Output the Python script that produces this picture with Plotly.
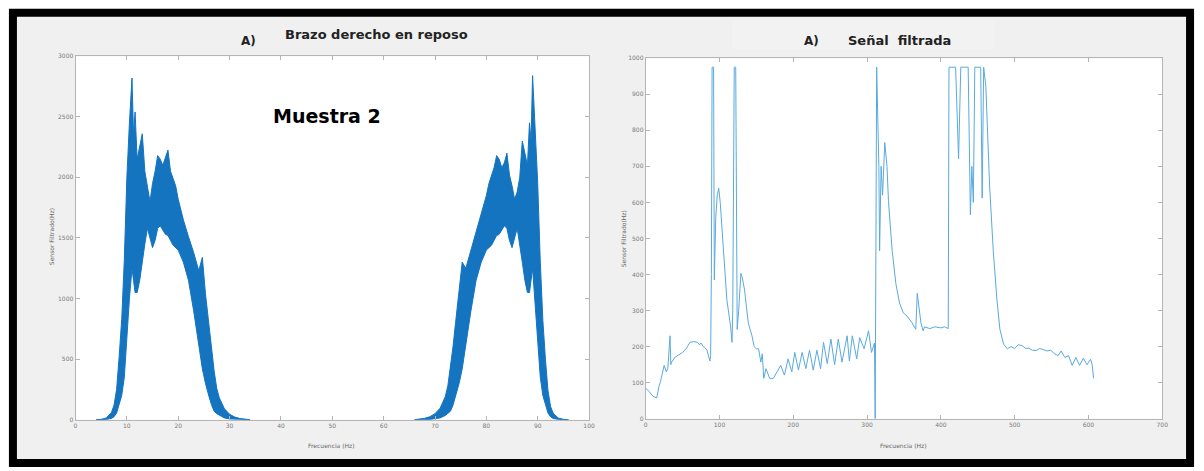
import plotly.graph_objects as go

W, H = 1204, 471

# ---------------- Left panel: spectrum band (upper / lower envelope) ----------
peak1_x = [4, 5, 6, 7, 7.5, 8, 8.5, 9, 9.5, 10, 10.5, 11, 11.3, 11.6, 12, 12.5, 13, 13.5, 14, 14.5,
           15, 15.5, 16, 16.5, 17, 17.5, 18, 18.5, 19, 19.5, 20, 21, 22, 23, 24, 24.7, 25.3, 26,
           26.5, 27, 27.5, 28, 29, 30, 31, 32, 34]
peak1_upper = [0, 3, 15, 60, 120, 250, 520, 830, 1317, 2000, 2450, 2820, 2350, 2540, 2150, 2250, 2360,
               2050, 1910, 1800, 1950, 2050, 2180, 2150, 2100, 2160, 2225, 2050, 1990, 1930, 1820, 1650,
               1510, 1380, 1230, 1340, 1040, 780, 560, 400, 260, 180, 90, 45, 22, 10, 0]
peak1_lower = [0, 0, 2, 10, 25, 55, 120, 200, 350, 650, 1000, 1250, 1150, 1050, 1050, 1150, 1300, 1450,
               1580, 1500, 1420, 1480, 1580, 1600, 1560, 1530, 1520, 1480, 1440, 1420, 1400, 1300, 1150,
               900, 620, 420, 300, 190, 120, 70, 50, 35, 15, 6, 2, 0, 0]

peak2_x = [66, 68, 69, 70, 71, 72, 72.5, 73, 73.5, 74, 74.7, 75.3, 76, 77, 78, 79, 80, 80.5, 81, 81.5,
           82, 82.5, 83, 83.5, 84, 84.5, 85, 85.5, 86, 86.5, 87, 87.5, 88, 88.4, 88.7, 89, 89.5, 90,
           90.5, 91, 91.5, 92, 92.5, 93, 94, 95, 96]
peak2_upper = [0, 12, 25, 50, 95, 190, 280, 420, 600, 800, 1060, 1300, 1250, 1400, 1540, 1680, 1850,
               1950, 2020, 2080, 2180, 2150, 2080, 2120, 2200, 2020, 1930, 1820, 1880, 2000, 2300, 2200,
               2100, 2450, 2300, 2840, 2400, 1950, 1300, 820, 500, 240, 110, 55, 14, 3, 0]
peak2_lower = [0, 0, 2, 6, 15, 35, 50, 70, 120, 190, 300, 420, 620, 900, 1150, 1300, 1400, 1420, 1440,
               1480, 1520, 1530, 1560, 1600, 1580, 1480, 1420, 1500, 1580, 1450, 1300, 1150, 1050, 1050,
               1150, 1250, 1000, 650, 350, 200, 120, 55, 25, 10, 2, 0, 0]

# ---------------- Right panel: filtered signal ----------------
sig_x = [0, 5, 10, 15, 18, 20, 25, 28, 30, 33, 34, 35, 40, 45, 50, 55, 60, 65, 70, 73, 75, 78, 80, 83,
         85, 87, 88, 89, 90, 91, 92, 93, 95, 97, 99, 101, 105, 110, 115, 117, 118, 120, 122, 124, 126,
         129, 131, 134, 139, 144, 147, 150, 153, 156, 158, 160, 163, 166, 168, 173, 178, 183, 188, 193,
         198, 202, 207, 212, 217, 222, 227, 232, 237, 241, 246, 251, 256, 261, 266, 273, 276, 280, 286,
         290, 296, 302, 306, 310, 311, 312, 313, 316, 317, 319, 321, 324, 327, 329, 334, 339, 344, 349,
         354, 361, 366, 368, 371, 373, 376, 378, 385, 392, 400, 405, 410, 411, 420, 424, 427, 437, 440,
         442, 444, 446, 454, 456, 458, 461, 466, 471, 476, 480, 485, 490, 495, 500, 505, 510, 515, 519,
         524, 529, 534, 539, 544, 549, 554, 559, 563, 568, 573, 578, 583, 588, 593, 598, 600, 603, 605,
         607]
sig_y = [85, 75, 62, 58, 90, 103, 148, 130, 140, 230, 150, 157, 171, 178, 184, 195, 212, 214, 212, 205,
         210, 200, 198, 190, 170, 160, 175, 400, 975, 975, 975, 385, 560, 620, 639, 600, 466, 330, 257,
         212, 300, 975, 975, 248, 300, 403, 390, 357, 266, 230, 200, 194, 194, 157, 180, 112, 139, 120,
         112, 112, 130, 148, 121, 166, 130, 184, 135, 184, 139, 190, 135, 190, 139, 212, 153, 221, 150,
         221, 157, 230, 160, 230, 166, 225, 194, 244, 184, 210, 0, 975, 975, 700, 466, 700, 620, 766,
         700, 603, 466, 375, 321, 294, 285, 266, 248, 348, 300, 266, 244, 255, 250, 255, 252, 255, 250,
         975, 975, 721, 975, 975, 566, 700, 600, 975, 975, 612, 975, 921, 648, 466, 330, 248, 207, 194,
         200, 195, 205, 203, 195, 196, 190, 189, 195, 192, 188, 190, 180, 175, 188, 170, 175, 148, 170,
         148, 168, 150, 157, 165, 150, 112]

left_xticks = [0, 10, 20, 30, 40, 50, 60, 70, 80, 90, 100]
left_yticks = [0, 500, 1000, 1500, 2000, 2500, 3000]
right_xticks = [0, 100, 200, 300, 400, 500, 600, 700]
right_yticks = [0, 100, 200, 300, 400, 500, 600, 700, 800, 900, 1000]

BLUE = "#1474c0"
LIGHT = "#5aa9de"

fig = go.Figure()

for px, pu, pl in [(peak1_x, peak1_upper, peak1_lower), (peak2_x, peak2_upper, peak2_lower)]:
    fig.add_trace(go.Scatter(
        x=px + px[::-1], y=pu + pl[::-1], fill="toself", fillcolor=BLUE,
        mode="lines", line=dict(color=BLUE, width=1), xaxis="x", yaxis="y",
        showlegend=False, hoverinfo="skip"))

fig.add_trace(go.Scatter(x=sig_x, y=sig_y, mode="lines", line=dict(color=LIGHT, width=1),
                         xaxis="x2", yaxis="y2", showlegend=False))

def px2x(p):
    return p / W

def py2y(p):
    return 1 - p / H

L = (74, 591, 53, 422)
R = (648, 1168, 55, 421)

axis_style = dict(showline=True, linecolor="#b5b5b5", linewidth=1, mirror="ticks", ticks="inside",
                  ticklen=4, tickcolor="#b5b5b5", tickfont=dict(size=6, color="#7a7a7a",
                  family="DejaVu Sans"), showgrid=False, zeroline=False, fixedrange=True)

fig.update_layout(
    width=W, height=H, margin=dict(l=0, r=0, t=0, b=0),
    paper_bgcolor="white", plot_bgcolor="white",
    xaxis=dict(domain=[px2x(L[0]), px2x(L[1])], range=[0, 100], tickvals=left_xticks,
               anchor="y", **axis_style),
    yaxis=dict(domain=[py2y(L[3]), py2y(L[2])], range=[0, 3000], tickvals=left_yticks,
               anchor="x", **axis_style),
    xaxis2=dict(domain=[px2x(R[0]), px2x(R[1])], range=[0, 700], tickvals=right_xticks,
                anchor="y2", **axis_style),
    yaxis2=dict(domain=[py2y(R[3]), py2y(R[2])], range=[0, 1000], tickvals=right_yticks,
                anchor="x2", **axis_style),
)

shapes = [
    dict(type="rect", xref="paper", yref="paper", x0=px2x(11), x1=px2x(1196), y0=py2y(466),
         y1=py2y(9), line=dict(color="black", width=8), fillcolor="#f0f0f0", layer="below"),
    dict(type="rect", xref="paper", yref="paper", x0=px2x(735), x1=px2x(1000), y0=py2y(46),
         y1=py2y(16), line=dict(width=0), fillcolor="#f2f2f2", layer="below"),
    dict(type="rect", xref="paper", yref="paper", x0=px2x(L[0]), x1=px2x(L[1]), y0=py2y(L[3]),
         y1=py2y(L[2]), line=dict(width=0), fillcolor="white", layer="below"),
    dict(type="rect", xref="paper", yref="paper", x0=px2x(R[0]), x1=px2x(R[1]), y0=py2y(R[3]),
         y1=py2y(R[2]), line=dict(width=0), fillcolor="white", layer="below"),
]
fig.update_layout(shapes=shapes)

def ann(text, x, y, size, color="#222", bold=False, angle=0, family="DejaVu Sans"):
    return dict(text=("<b>%s</b>" % text) if bold else text, x=px2x(x), y=py2y(y),
                xref="paper", yref="paper", showarrow=False, textangle=angle,
                font=dict(size=size, color=color, family=family), xanchor="center",
                yanchor="middle")

annotations = [
    ann("A)", 248, 38, 12, bold=True),
    ann("Brazo derecho en reposo", 377, 31, 13, bold=True),
    ann("A)", 815, 38, 12, bold=True),
    ann("Señal  filtrada", 903, 37, 13, bold=True),
    ann("Muestra 2", 327, 114, 19, color="black", bold=True),
    ann("Frecuencia (Hz)", 332, 448, 6, color="#666"),
    ann("Frecuencia (Hz)", 908, 448, 6, color="#666"),
    ann("Sensor Filtrado(Hz)", 50, 236, 6, color="#666", angle=-90),
    ann("Sensor Filtrado(Hz)", 626, 238, 6, color="#666", angle=-90),
]
fig.update_layout(annotations=annotations)

fig.write_html("out.html")
